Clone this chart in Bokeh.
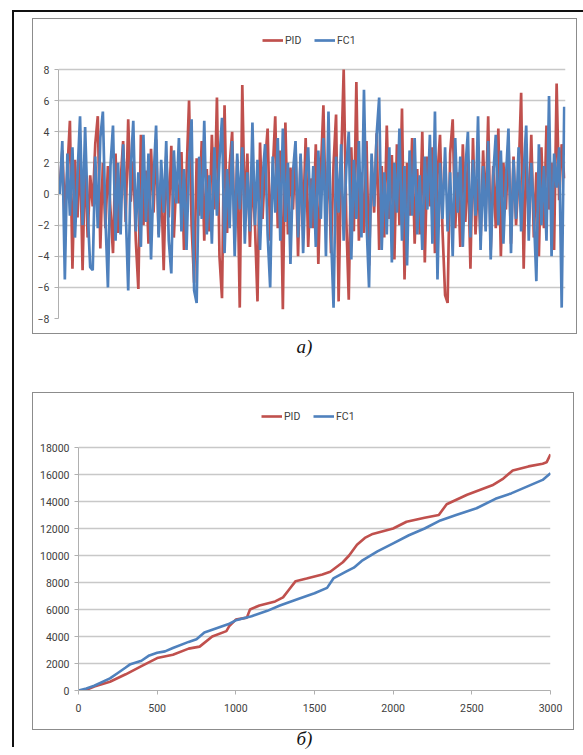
from bokeh.plotting import figure
from bokeh.models import Legend, LegendItem, Div, Range1d, FixedTicker, Spacer
from bokeh.layouts import column, row
from bokeh.embed import file_html
from bokeh.resources import INLINE

# ---------------- data: chart a) (signal) ----------------
pid_signal = [
    0.5, 2.8, -1.2, 1.5, 4.7, -4.8, 2.2, -1.5, 3.0, -4.9,
    2.5, -2.8, 1.2, -0.8, 3.2, 5.0, -3.5, 2.0, -2.2, 1.8,
    -1.0, -3.8, 2.6, -2.5, 0.8, 3.4, -1.8, 4.8, -0.5, 2.1,
    -3.0, -6.1, 3.8, -2.0, 1.5, -3.2, 2.9, -1.2, 3.5, -2.6,
    0.9, -4.9, 2.4, -1.5, 3.1, -2.8, 1.0, -0.6, 2.7, -3.6,
    1.2, 6.0, -2.0, -5.7, 2.3, -1.4, 3.4, -3.0, 1.6, -2.4,
    3.8, -1.0, 6.2, -4.0, -6.7, 5.7, -2.5, 1.8, 4.0, -3.1,
    2.2, -7.3, 7.0, -1.5, 2.6, -3.4, 1.2, -2.0, -6.9, 3.3,
    -1.6, 2.0, 4.2, -3.0, 1.4, 5.0, -2.2, 2.8, -7.4, 4.6,
    -2.6, 1.7, -1.0, 3.0, -4.0, 2.4, -1.8, 3.6, -3.4, 1.0,
    -2.2, 3.2, -4.5, 1.5, 5.7, -2.0, 2.6, -3.8, 1.9, 5.1,
    -6.9, 2.0, 8.0, -1.5, -6.8, 3.0, -2.4, 7.2, -3.0, 1.4,
    -2.5, 3.4, -4.6, 2.2, -1.2, 3.9, -3.6, 1.8, -2.8, 4.4,
    -1.6, 2.5, -4.2, 3.2, -2.0, 5.5, -5.5, 2.0, -1.4, 3.6,
    -3.2, 1.6, -2.6, 4.0, -4.4, 2.4, -0.8, 3.0, -3.8, 1.2,
    3.8, -2.4, -6.5, -7.0, 2.6, 4.8, -2.2, 1.4, -3.4, 3.2,
    -1.8, 2.2, -4.8, 3.6, -2.6, 1.0, -3.0, 2.8, -1.4, 5.0,
    -3.6, 1.8, -2.2, 4.2, -4.0, 2.0, -1.0, 3.4, -3.2, 2.4,
    -2.0, 1.2, 6.5, -4.8, 2.6, -1.6, 3.8, -2.8, 1.4, -4.0,
    3.0, -2.2, 4.4, -1.0, 2.0, -3.6, 7.1, -0.4, 3.2, 1.0,
]
fc1_signal = [
    0.0, 3.4, -5.5, 2.6, -1.4, 3.0, -2.8, 1.2, 5.0, -2.0,
    4.3, -1.0, -4.7, -4.9, 2.4, -2.2, 3.6, 5.3, -1.5, -6.0,
    1.8, 4.4, -3.0, 2.0, -2.6, 3.2, -1.0, -6.2, 1.6, 4.7,
    -2.4, 1.4, -3.4, 3.8, -1.8, 2.6, -4.2, 1.0, 4.4, -2.8,
    2.2, -1.2, 3.4, -3.0, -5.1, 2.8, -0.6, 3.6, -2.4, 1.6,
    -3.6, 2.0, 4.8, -6.2, -7.0, 2.4, -1.6, 4.7, -2.6, 1.2,
    -3.2, 3.0, -1.4, 2.2, 4.9, -3.8, 1.6, -2.2, 3.4, -4.0,
    2.6, -1.0, 3.0, -3.2, 1.4, -2.4, 4.6, -2.0, 2.2, -3.6,
    1.0, 3.2, -2.6, -6.0, 2.4, -1.2, 3.6, -3.0, 4.2, -1.8,
    2.0, -4.5, 1.4, 3.4, -2.8, 2.6, -3.8, 1.2, 3.0, -2.2,
    1.8, -3.4, 2.8, -1.6, 3.6, -4.0, 5.3, -2.6, -7.3, 2.4,
    -1.2, 3.2, -3.0, 1.6, 4.0, -4.2, 2.2, -1.6, 3.4, -2.8,
    6.7, -1.8, -6.0, 2.6, -0.8, 3.8, 6.2, -3.6, 1.4, -2.6,
    3.0, -4.4, 2.0, -1.2, 4.2, -3.0, 1.8, -4.6, 2.8, -1.4,
    3.6, -2.6, 1.2, -3.6, 2.4, -1.0, 3.8, -3.2, 5.3, -5.5,
    2.0, -1.6, 3.0, -2.4, 1.4, -4.0, 3.6, -1.2, 2.4, -3.4,
    1.6, 4.0, -2.8, 2.2, -1.4, 5.0, -3.6, 1.8, -2.4, 3.4,
    -4.2, 1.2, 3.8, -2.0, 2.8, -3.2, 1.0, 4.2, -3.8, 2.2,
    -1.6, 3.0, -2.4, 1.4, 4.4, -3.0, 2.0, -1.2, -5.6, 3.2,
    -2.0, 1.8, -3.0, 6.3, -4.0, 2.6, 0.4, 3.0, -7.3, 5.6,
]
signal_index = list(range(len(pid_signal)))
signal_ticks = [-8, -6, -4, -2, 0, 2, 4, 6, 8]

# ---------------- data: chart б) (cumulative) ----------------
pid_x = [0, 40, 100, 200, 300, 400, 500, 600, 700, 770, 850, 940, 960, 1000,
         1070, 1090, 1150, 1250, 1300, 1340, 1380, 1450, 1550, 1600, 1680,
         1720, 1770, 1820, 1870, 2000, 2085, 2200, 2290, 2340, 2470, 2630,
         2700, 2760, 2860, 2950, 2975, 3000]
pid_y = [0, 0, 300, 650, 1200, 1800, 2400, 2650, 3100, 3250, 4000, 4400, 4800,
         5250, 5400, 6000, 6300, 6600, 6900, 7500, 8100, 8300, 8600, 8800, 9500,
         10000, 10800, 11300, 11600, 12000, 12500, 12800, 13000, 13800, 14500,
         15200, 15700, 16300, 16600, 16800, 16900, 17500]
fc1_x = [0, 50, 100, 200, 250, 300, 330, 400, 450, 500, 550, 600, 700, 750,
         800, 850, 950, 1000, 1100, 1200, 1280, 1400, 1500, 1580, 1620, 1700,
         1750, 1800, 1900, 2000, 2100, 2200, 2300, 2400, 2530, 2650, 2750,
         2850, 2950, 3000]
fc1_y = [0, 150, 350, 900, 1300, 1700, 1950, 2200, 2600, 2800, 2900, 3150,
         3600, 3800, 4300, 4500, 4900, 5200, 5500, 5900, 6300, 6800, 7200, 7600,
         8300, 8800, 9100, 9600, 10300, 10900, 11500, 12000, 12600, 13000,
         13500, 14200, 14600, 15100, 15600, 16100]
cum_yticks = [0, 2000, 4000, 6000, 8000, 10000, 12000, 14000, 16000, 18000]
cum_xticks = [0, 500, 1000, 1500, 2000, 2500, 3000]

series_names = ["PID", "FC1"]
RED = "#C0504D"
BLUE = "#4F81BD"
TICK_FONT = "Roboto"
TICK_SIZE = "10.5px"
TEXT_COL = "#404040"
GRID_COL = "#c8c8c8"
AXIS_COL = "#b0b0b0"
Z = (0, 0, 0, 0)


def style_common(p, bounds):
    p.outline_line_color = None
    p.background_fill_color = "white"
    p.border_fill_color = "white"
    p.xgrid.grid_line_color = None
    p.ygrid.grid_line_color = GRID_COL
    p.ygrid.grid_line_width = 1.3
    ax = p.yaxis[0]
    ax.bounds = bounds
    ax.axis_line_color = AXIS_COL
    ax.major_tick_line_color = AXIS_COL
    ax.major_tick_out = 4
    ax.major_tick_in = 0
    ax.minor_tick_line_color = None
    ax.major_label_text_font = TICK_FONT
    ax.major_label_text_font_size = TICK_SIZE
    ax.major_label_text_color = TEXT_COL
    ax.major_label_standoff = 5


def add_legend(p, r1, r2, loc):
    leg = Legend(items=[LegendItem(label=series_names[0], renderers=[r1]),
                        LegendItem(label=series_names[1], renderers=[r2])],
                 orientation="horizontal", location=loc,
                 label_text_font=TICK_FONT, label_text_font_size=TICK_SIZE,
                 label_text_color=TEXT_COL, glyph_width=21, glyph_height=12,
                 label_height=16, label_standoff=2, spacing=9, padding=0,
                 margin=0, border_line_color=None, background_fill_alpha=0)
    p.add_layout(leg, "center")


# ---------------- chart a) ----------------
# frame covers the legend strip too: range top leaves room above the 8 gridline
p1 = figure(width=543, height=314, output_backend="svg", toolbar_location=None,
            x_range=Range1d(-0.5, len(pid_signal) - 0.5),
            y_range=Range1d(-8, 8 + 50 * 16 / 249),
            min_border_left=25, min_border_right=11, min_border_top=0,
            min_border_bottom=15, margin=Z)
r1 = p1.line(signal_index, pid_signal, line_color=RED, line_width=2.7)
r2 = p1.line(signal_index, fc1_signal, line_color=BLUE, line_width=2.7)
style_common(p1, (-8, 8))
p1.xaxis.visible = False
p1.yaxis.ticker = FixedTicker(ticks=signal_ticks)
add_legend(p1, r1, r2, (204, 270))
box1 = column(p1, styles={"border": "1px solid #8c8c8c"}, margin=Z)

LABEL_CSS = ("width:545px;text-align:center;font-family:'Liberation Serif';"
             "font-style:italic;font-size:19px;color:#111;margin:0;")
label_a = Div(text='<div style="' + LABEL_CSS + 'line-height:22px;padding-top:2px;">а)</div>',
              width=545, height=58, margin=Z)

# ---------------- chart б) ----------------
p2 = figure(width=540, height=336, output_backend="svg", toolbar_location=None,
            x_range=Range1d(0, 3000), y_range=Range1d(0, 18000 + 54 * 18000 / 243),
            min_border_left=45, min_border_right=23, min_border_top=0,
            min_border_bottom=39, margin=Z)
r3 = p2.line(pid_x, pid_y, line_color=RED, line_width=2.6)
r4 = p2.line(fc1_x, fc1_y, line_color=BLUE, line_width=2.6)
style_common(p2, (0, 18000))
p2.yaxis.ticker = FixedTicker(ticks=cum_yticks)
xa = p2.xaxis[0]
xa.ticker = FixedTicker(ticks=cum_xticks)
xa.axis_line_color = AXIS_COL
xa.major_tick_line_color = AXIS_COL
xa.major_tick_out = 4
xa.major_tick_in = 0
xa.minor_tick_line_color = None
xa.major_label_text_font = TICK_FONT
xa.major_label_text_font_size = TICK_SIZE
xa.major_label_text_color = TEXT_COL
xa.major_label_standoff = 9
add_legend(p2, r3, r4, (183, 266))
box2 = column(p2, styles={"border": "1px solid #8c8c8c"}, margin=Z)

label_b = Div(text='<div style="' + LABEL_CSS + 'line-height:17px;">б)</div>',
              width=545, height=17, margin=Z)

inner = column(Spacer(width=545, height=6, margin=Z), box1, label_a, box2, label_b,
               spacing=0, margin=Z)
top_rule = Div(text="", width=571, height=2, margin=Z, styles={"background-color": "#111"})
left_rule = Div(text="", width=2, height=735, margin=Z, styles={"background-color": "#111"})

layout = column(
    Spacer(width=10, height=10, margin=Z),
    row(Spacer(width=12, height=2, margin=Z), top_rule, spacing=0, margin=Z),
    row(Spacer(width=12, height=10, margin=Z), left_rule, Spacer(width=18, height=10, margin=Z),
        inner, spacing=0, margin=Z),
    spacing=0, margin=Z,
)

open("out.html", "w").write(file_html(layout, INLINE))
